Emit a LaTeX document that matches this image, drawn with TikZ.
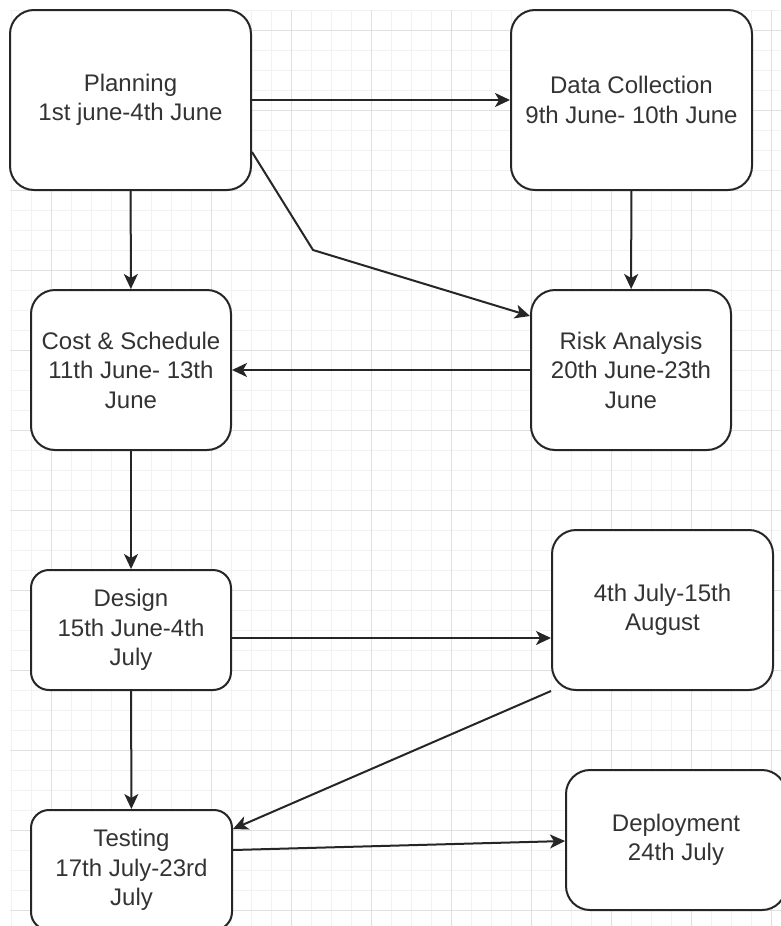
\documentclass[tikz,border=0pt]{standalone}
\usepackage{fontspec}
\setmainfont{Liberation Sans}
\usetikzlibrary{arrows.meta}

\begin{document}
\begin{tikzpicture}[x=1pt,y=-1pt,
    box/.style={draw=black!85, line width=2pt, fill=white, rounded corners=24pt,
        inner sep=0pt, align=center, text=black!80,
        font=\fontsize{24}{29.5}\selectfont},
    arr/.style={draw=black!85, line width=2pt,
        -{Stealth[length=15pt,width=14pt,inset=4pt]}}]

\useasboundingbox (0,0) rectangle (781,926);
\fill[white] (0,0) rectangle (781,926);

% siatka
\foreach \x in {11,31,...,771} \draw[black!5, line width=1pt] (\x,10) -- (\x,926);
\foreach \y in {10,30,...,926} \draw[black!5, line width=1pt] (10,\y) -- (781,\y);
\foreach \x in {51,131,...,771} \draw[black!12, line width=1pt] (\x,10) -- (\x,926);
\foreach \y in {30,110,...,926} \draw[black!12, line width=1pt] (10,\y) -- (781,\y);

% bloki
\node[box, minimum width=241pt, minimum height=180pt] (plan) at (130.5,100) {Planning\\1st june-4th June};
\node[box, minimum width=241pt, minimum height=180pt] (data) at (631.5,100) {Data Collection\\9th June- 10th June};
\node[box, minimum width=200pt, minimum height=160pt] (cost) at (131,370) {Cost \& Schedule\\11th June- 13th\\June};
\node[box, minimum width=200pt, minimum height=160pt] (risk) at (631,370) {Risk Analysis\\20th June-23th\\June};
\node[box, rounded corners=18pt, minimum width=200pt, minimum height=120pt] (design) at (131,630) {Design\\15th June-4th\\July};
\node[box, minimum width=221pt, minimum height=160pt] (aug) at (662.5,610) {4th July-15th\\August};
\node[box, rounded corners=18pt, minimum width=201pt, minimum height=120pt] (test) at (131.5,870) {Testing\\17th July-23rd\\July};
\node[box, minimum width=220pt, minimum height=140pt] (deploy) at (676,840) {Deployment\\24th July};

\coordinate (bend) at (313,250);

% strzałki
\draw[arr] (plan) -- (data);
\draw[arr] (plan) -- (cost);
\draw[arr] (data) -- (risk);
\draw[arr] ([yshift=-52pt]plan.east) -- (bend) -- ([yshift=54pt]risk.west);
\draw[arr] (risk) -- (cost);
\draw[arr] (cost) -- (design);
\draw[arr] ([yshift=-8pt]design.east) -- ([yshift=-28pt]aug.west);
\draw[arr] (design) -- (test);
\draw[arr] (aug.south west) -- ([yshift=41pt]test.east);
\draw[arr] ([yshift=20pt]test.east) -- ([yshift=-1pt]deploy.west);

\end{tikzpicture}
\end{document}
